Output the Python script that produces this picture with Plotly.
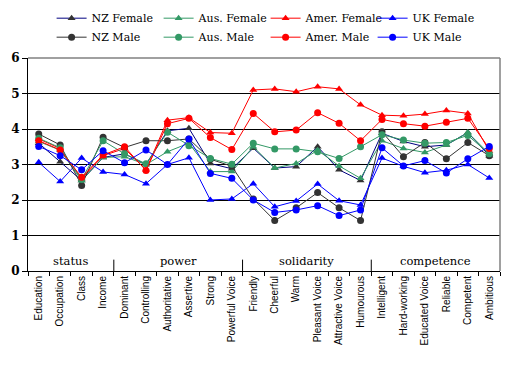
import plotly.graph_objects as go

categories = ["Education", "Occupation", "Class", "Income",
              "Dominant", "Controlling", "Authoritative", "Assertive", "Strong", "Powerful Voice",
              "Friendly", "Cheerful", "Warm", "Pleasant Voice", "Attractive Voice", "Humourous",
              "Intelligent", "Hard-working", "Educated Voice", "Reliable", "Competent", "Ambitious"]

groups = ["status", "power", "solidarity", "competence"]
group_sizes = [4, 6, 6, 6]

nz_female = [3.60, 3.08, 2.55, 3.20, 3.30, 3.00, 3.95, 4.02, 3.03, 2.88,
             3.46, 2.90, 2.94, 3.50, 2.85, 2.55, 3.88, 3.65, 3.50, 3.55, 3.90, 3.25]
aus_female = [3.65, 3.40, 2.55, 3.20, 3.22, 3.00, 3.36, 3.60, 2.80, 2.80,
              3.50, 2.90, 3.03, 3.40, 2.96, 2.61, 3.67, 3.45, 3.34, 3.55, 3.90, 3.30]
amer_female = [3.72, 3.45, 2.60, 3.25, 3.45, 2.85, 4.25, 4.32, 3.90, 3.88,
               5.10, 5.13, 5.05, 5.19, 5.13, 4.68, 4.39, 4.37, 4.42, 4.52, 4.44, 3.38]
uk_female = [3.06, 2.52, 3.18, 2.79, 2.72, 2.46, 3.00, 3.19, 2.00, 2.03,
             2.46, 1.81, 1.97, 2.45, 1.98, 1.86, 3.18, 2.95, 2.77, 2.84, 3.00, 2.62]
nz_male = [3.86, 3.55, 2.41, 3.77, 3.48, 3.67, 3.67, 3.72, 3.15, 2.95,
           2.03, 1.42, 1.78, 2.21, 1.78, 1.42, 3.92, 3.22, 3.62, 3.16, 3.62, 3.25]
aus_male = [3.74, 3.47, 2.58, 3.67, 3.30, 3.02, 3.91, 3.53, 3.17, 3.01,
            3.60, 3.44, 3.44, 3.36, 3.17, 3.50, 3.84, 3.69, 3.60, 3.62, 3.82, 3.30]
amer_male = [3.67, 3.41, 2.64, 3.27, 3.50, 2.83, 4.15, 4.30, 3.76, 3.42,
             4.44, 3.92, 3.97, 4.46, 4.16, 3.67, 4.27, 4.15, 4.08, 4.19, 4.30, 3.45]
uk_male = [3.51, 3.25, 2.85, 3.39, 3.05, 3.41, 3.00, 3.72, 2.75, 2.61,
           2.00, 1.65, 1.72, 1.84, 1.56, 1.72, 3.47, 2.96, 3.11, 2.76, 3.16, 3.51]

series = [
    ("NZ Female", nz_female, "#000080", "#333333", "triangle-up"),
    ("Aus. Female", aus_female, "#339966", "#339966", "triangle-up"),
    ("Amer. Female", amer_female, "#FF0000", "#FF0000", "triangle-up"),
    ("UK Female", uk_female, "#0000FF", "#0000FF", "triangle-up"),
    ("NZ Male", nz_male, "#333333", "#333333", "circle"),
    ("Aus. Male", aus_male, "#339966", "#339966", "circle"),
    ("Amer. Male", amer_male, "#FF0000", "#FF0000", "circle"),
    ("UK Male", uk_male, "#0000FF", "#0000FF", "circle"),
]

SANS = "Liberation Sans, Arial, sans-serif"
SERIF = "DejaVu Serif"

fig = go.Figure()
for name, vals, lc, mc, sym in series:
    fig.add_trace(go.Scatter(
        x=categories, y=vals, name=name, mode="lines+markers",
        line=dict(color=lc, width=1),
        marker=dict(color=mc, symbol=sym, size=7, line=dict(width=0)),
    ))

# group labels and separators
start = 0
for g, n in zip(groups, group_sizes):
    fig.add_annotation(x=start + (n - 1) / 2, y=0.27, text=g, showarrow=False,
                       font=dict(family=SERIF, size=11.5, color="black"),
                       xanchor="center", yanchor="middle")
    if start > 0:
        fig.add_shape(type="line", x0=start - 0.5, x1=start - 0.5, y0=0, y1=0.32,
                      xref="x", yref="y", line=dict(color="black", width=1))
    start += n

# top and right border in gray
fig.add_shape(type="line", xref="paper", yref="paper", x0=0, x1=1, y0=1, y1=1,
              line=dict(color="#808080", width=1.5), layer="above")
fig.add_shape(type="line", xref="paper", yref="paper", x0=1, x1=1, y0=0, y1=1,
              line=dict(color="#808080", width=1.5), layer="above")

fig.update_layout(
    width=501, height=358,
    margin=dict(l=20, r=9, t=50, b=95, autoexpand=False),
    paper_bgcolor="white", plot_bgcolor="white",
    font=dict(family=SERIF, color="black"),
    legend=dict(orientation="h", x=0.05, xanchor="left", y=1.255, yanchor="top",
                yref="paper", entrywidth=62, entrywidthmode="pixels",
                font=dict(family=SERIF, size=11, color="black"),
                tracegroupgap=0, itemwidth=30),
    xaxis=dict(
        type="category", range=[-0.5, len(categories) - 0.5], automargin=False,
        tickangle=-90, tickson="boundaries", ticks="outside", ticklen=4,
        tickcolor="black", showline=True, linecolor="black", linewidth=1,
        showgrid=False, zeroline=False,
        tickfont=dict(family=SANS, size=10, color="black"),
    ),
    yaxis=dict(
        range=[0, 6], tickvals=[0, 1, 2, 3, 4, 5, 6], ticks="outside", ticklen=5,
        automargin=False,
        tickcolor="black", showline=True, linecolor="black", linewidth=1,
        showgrid=True, gridcolor="black", gridwidth=1, zeroline=False,
        tickfont=dict(family=SERIF, size=12, color="black", weight="bold"),
    ),
    showlegend=True,
)

fig.write_html("out.html")
